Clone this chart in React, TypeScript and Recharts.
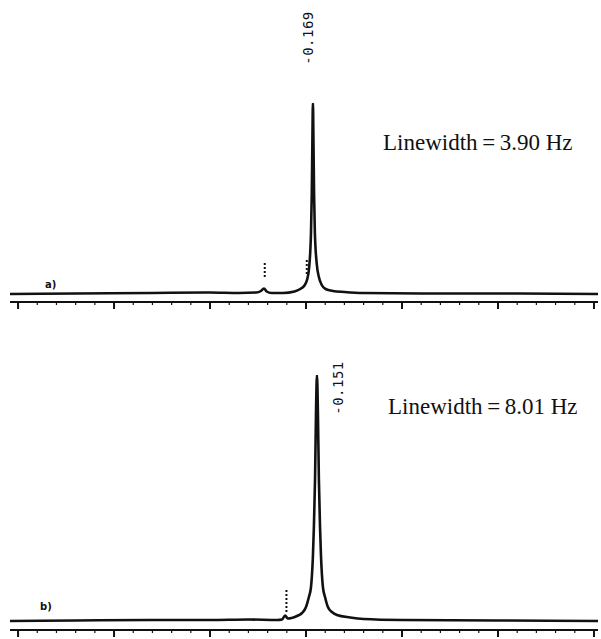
import React from "react";
import { LineChart, Line, XAxis, YAxis, ReferenceLine } from "recharts";

// chemical shift tick positions (ppm), axis runs high -> low
const majorTicks = [15, 10, 5, 0, -5, -10, -15];
const minorTicks = [15, 14, 13, 12, 11, 10, 9, 8, 7, 6, 5, 4, 3, 2, 1, 0, -1, -2, -3, -4, -5, -6, -7, -8, -9, -10, -11, -12, -13, -14, -15];

// spectrum a) (linewidth 3.90 Hz), intensity
const ppmA = [15.42, 12, 8, 5, 3.5, 2.6, 2.35, 2.19, 2.05, 1.8, 1.2, 0.6, 0.3, 0.1, -0.05, -0.16, -0.26, -0.3, -0.33, -0.36, -0.39, -0.42, -0.46, -0.56, -0.67, -0.82, -1.02, -1.4, -2.0, -3, -6, -10, -15.21];
const intA = [0, 0.5, 1, 1.5, 1, 1.5, 3, 5.5, 2.5, 1, 1, 2.5, 5, 8, 14, 26, 62, 100, 150, 191, 150, 100, 62, 30, 17, 9, 5, 3, 2, 1, 0.5, 0.5, 0];

// spectrum b) (linewidth 8.01 Hz)
const ppmB = [15.42, 12, 8, 5, 3, 1.5, 1.25, 1.09, 0.95, 0.75, 0.47, 0.21, 0.0, -0.15, -0.26, -0.31, -0.36, -0.41, -0.47, -0.52, -0.57, -0.62, -0.67, -0.73, -0.78, -0.83, -0.88, -0.99, -1.14, -1.35, -1.61, -2.3, -3, -5, -10, -15.21];
const intB = [0, 0.5, 1, 1, 1.5, 1, 1.5, 5.5, 2.5, 3, 5, 8, 14, 24, 34, 46, 65, 94, 142, 208, 246, 208, 142, 94, 65, 46, 34, 24, 14, 9, 6, 3.5, 2, 1, 0.5, 0];

const peakLabelA = "-0.169";
const peakLabelB = "-0.151";
const widthLabelA = "Linewidth\u2009=\u20093.90 Hz";
const widthLabelB = "Linewidth\u2009=\u20098.01 Hz";

const dataA = ppmA.map((p, i) => ({ ppm: p, v: intA[i] }));
const dataB = ppmB.map((p, i) => ({ ppm: p, v: intB[i] }));

const X_DOMAIN: [number, number] = [-15.21, 15.42];

function TickMark(props: any) {
  const { x, y, payload } = props;
  const major = majorTicks.includes(payload.value);
  return (
    <line
      x1={x}
      x2={x}
      y1={y}
      y2={y + (major ? 7 : 3)}
      stroke="#111"
      strokeWidth={major ? 2 : 1.2}
    />
  );
}

function Spectrum({ data, top, height, bottom, axisHeight, yDomain, marks }: any) {
  return (
    <LineChart
      width={601}
      height={height}
      data={data}
      margin={{ top, right: 3, bottom, left: 10 }}
    >
      <XAxis
        dataKey="ppm"
        type="number"
        domain={X_DOMAIN}
        reversed
        allowDataOverflow
        ticks={minorTicks}
        interval={0}
        tick={<TickMark />}
        tickSize={0}
        tickMargin={0}
        tickLine={false}
        height={axisHeight}
        axisLine={{ stroke: "#111", strokeWidth: 2 }}
      />
      <YAxis hide width={0} domain={yDomain} allowDataOverflow type="number" />
      <Line
        dataKey="v"
        type="monotone"
        stroke="#111"
        strokeWidth={2.6}
        dot={false}
        isAnimationActive={false}
      />
      {marks.map((m: any, i: number) => (
        <ReferenceLine
          key={i}
          segment={[{ x: m[0], y: m[1] }, { x: m[0], y: m[2] }]}
          stroke="#111"
          strokeWidth={2}
          strokeDasharray="2 2"
        />
      ))}
    </LineChart>
  );
}

const serif = "'Liberation Serif', 'Times New Roman', serif";
const mono = "'DejaVu Sans Mono', monospace";

export default function App() {
  return (
    <div style={{ position: "absolute", left: 0, top: 0, width: 601, height: 639, background: "#fff", overflow: "hidden" }}>
      <div style={{ position: "absolute", left: 0, top: 0 }}>
        <Spectrum data={dataA} top={103} height={320} bottom={8} axisHeight={10} yDomain={[-8, 191]} marks={[[2.15, 17, 32], [-0.04, 20, 34]]} />
      </div>
      <div style={{ position: "absolute", left: 0, top: 320 }}>
        <Spectrum data={dataB} top={55} height={319} bottom={0} axisHeight={9} yDomain={[-9, 246]} marks={[[1.02, 9, 33]]} />
      </div>
      <svg width={601} height={639} style={{ position: "absolute", left: 0, top: 0, pointerEvents: "none" }}>
        <text x={308} y={38} transform="rotate(-90 308 38)" textAnchor="middle" dominantBaseline="central" fontFamily={mono} fontSize={14} letterSpacing={0.5} fill="#111">{peakLabelA}</text>
        <text x={338} y={388} transform="rotate(-90 338 388)" textAnchor="middle" dominantBaseline="central" fontFamily={mono} fontSize={14} letterSpacing={0.5} fill="#111">{peakLabelB}</text>
        <text x={383} y={150} fontFamily={serif} fontSize={23} fill="#111">{widthLabelA}</text>
        <text x={388} y={414} fontFamily={serif} fontSize={23} fill="#111">{widthLabelB}</text>
        <text x={45} y={288} fontFamily={"'DejaVu Sans', sans-serif"} fontWeight="bold" fontSize={10} fill="#111">a)</text>
        <text x={40} y={610} fontFamily={"'DejaVu Sans', sans-serif"} fontWeight="bold" fontSize={10} fill="#111">b)</text>
      </svg>
    </div>
  );
}
